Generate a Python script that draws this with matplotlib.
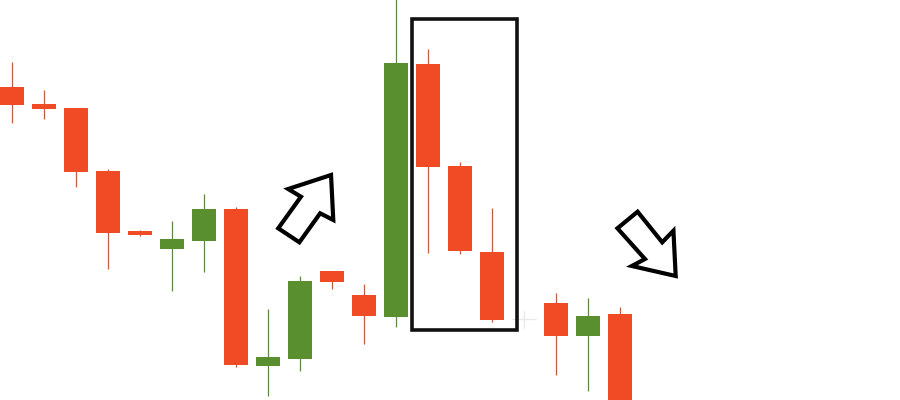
import numpy as np
import matplotlib.pyplot as plt
from matplotlib.patches import Polygon, Rectangle

# candle data (price units)
opens  = [313, 296, 292, 229, 169, 151, 159, 191, 34, 41, 129, 105, 83, 336, 234, 148, 81, 97, 64, 86]
closes = [295, 291, 228, 167, 165, 161, 191, 35, 43, 119, 118, 84, 337, 233, 149, 80, 81, 64, 84, -20]
highs  = [338, 310, 292, 231, 170, 179, 206, 193, 91, 124, 129, 116, 420, 351, 238, 192, 89, 107, 102, 93]
lows   = [277, 281, 213, 131, 164, 109, 128, 33, 4, 29, 111, 56, 73, 147, 146, 78, 72, 25, 9, -25]
faint = [16]  # barely visible doji

RED = '#f04b24'
GREEN = '#5a8f2f'
FAINT = '#e8e8e8'

# outlined arrows, (candle index, price)
up_arrow = [(9.97, 225), (10.04, 180), (9.63, 186.7), (8.98, 157.7),
            (8.32, 171.7), (9.03, 203.3), (8.63, 211)]
down_arrow = [(20.74, 124), (20.67, 169.3), (20.32, 157.7), (19.55, 188.3),
              (18.92, 171.7), (19.78, 141), (19.37, 134)]

# box around the three falling candles
box_x = (12.49, 15.79)
box_y = (70, 381)

fig = plt.figure(figsize=(9, 4), dpi=100)
ax = fig.add_axes([0, 0, 1, 1])

x = np.arange(len(opens))
o = np.array(opens)
c = np.array(closes)
colors = []
for i in x:
    if i in faint:
        colors.append(FAINT)
    elif c[i] >= o[i]:
        colors.append(GREEN)
    else:
        colors.append(RED)

ax.vlines(x, lows, highs, colors=colors, linewidth=0.9, zorder=1)
body_h = np.abs(c - o)
body_b = np.minimum(o, c)
for i in x:
    if body_h[i] < 0.5:
        ax.hlines(o[i], i - 0.36, i + 0.36, colors=colors[i], linewidth=0.9, zorder=2)
    else:
        ax.bar(i, body_h[i], bottom=body_b[i], width=0.72, color=colors[i],
               linewidth=0, zorder=2)

for pts in (up_arrow, down_arrow):
    ax.add_patch(Polygon(pts, closed=True, facecolor='white', edgecolor='black',
                         linewidth=3, joinstyle='miter', zorder=3))

ax.add_patch(Rectangle((box_x[0], box_y[0]), box_x[1] - box_x[0], box_y[1] - box_y[0],
                       fill=False, edgecolor='#111111', linewidth=2.6,
                       joinstyle='miter', zorder=3))

ax.set_xlim(-0.375, 27.75)
ax.set_ylim(0, 400)
ax.axis('off')

plt.savefig('out.png', dpi=100, facecolor='white')
